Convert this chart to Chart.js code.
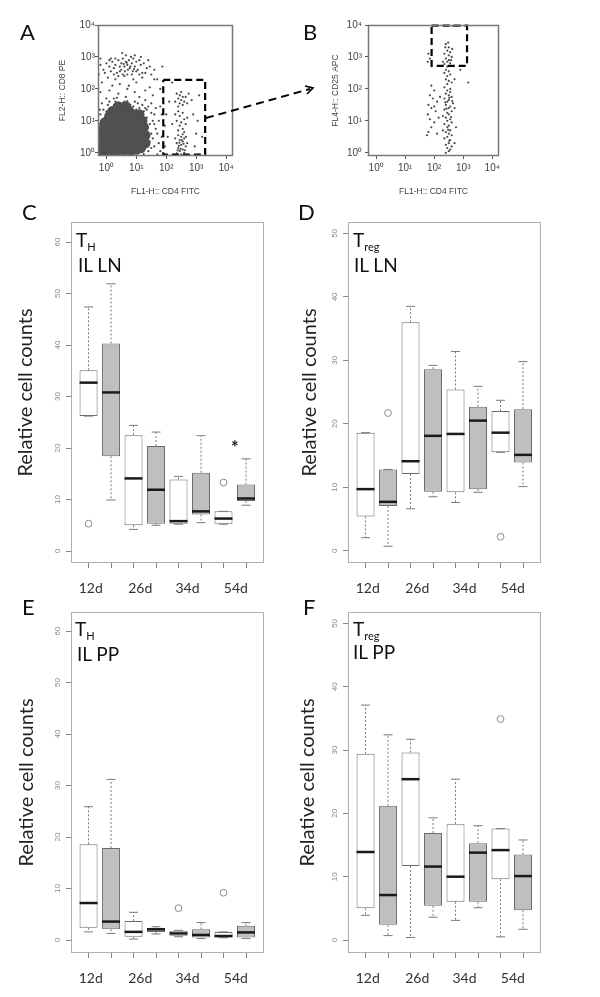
<!DOCTYPE html>
<html>
<head>
<meta charset="utf-8">
<script src="https://cdn.jsdelivr.net/npm/chart.js@4.4.1/dist/chart.umd.min.js"></script>
<style>
  body { margin: 0; background: #fff; width: 600px; height: 997px; position: relative; overflow: hidden; font-family: Lato, sans-serif; }
  canvas { position: absolute; left: 0; top: 0; }
  .lbl { position: absolute; color: #111; line-height: 1; white-space: nowrap; }
  .pl { font-size: 22px; }
  .an { font-size: 19px; }
  .an span { font-size: 11px; position: relative; top: 4px; }
  svg { position: absolute; left: 0; top: 0; }
</style>
</head>
<body>
<canvas id="cA" width="600" height="997"></canvas>
<canvas id="cB" width="600" height="997"></canvas>
<canvas id="cC" width="600" height="997"></canvas>
<canvas id="cD" width="600" height="997"></canvas>
<canvas id="cE" width="600" height="997"></canvas>
<canvas id="cF" width="600" height="997"></canvas>

<!-- gate arrow A -> B -->
<svg width="600" height="200">
  <line x1="206" y1="118" x2="310" y2="89" stroke="#000" stroke-width="2" stroke-dasharray="8 5"/>
  <polyline points="305,86 313,88 307,94" fill="none" stroke="#000" stroke-width="1.6"/>
</svg>

<div class="lbl pl" style="left:20px;top:21px">A</div>
<div class="lbl pl" style="left:303px;top:21px">B</div>
<div class="lbl pl" style="left:22px;top:201px">C</div>
<div class="lbl pl" style="left:298px;top:201px">D</div>
<div class="lbl pl" style="left:22px;top:596px">E</div>
<div class="lbl pl" style="left:303px;top:596px">F</div>

<div class="lbl an" style="left:76px;top:230px">T<span>H</span></div>
<div class="lbl an" style="left:78px;top:255px">IL LN</div>
<div class="lbl an" style="left:353px;top:230px">T<span>reg</span></div>
<div class="lbl an" style="left:354px;top:255px">IL LN</div>
<div class="lbl an" style="left:75px;top:619px">T<span>H</span></div>
<div class="lbl an" style="left:77px;top:644px">IL PP</div>
<div class="lbl an" style="left:353px;top:619px">T<span>reg</span></div>
<div class="lbl an" style="left:353px;top:642px">IL PP</div>

<script>
// ---- flow plots (log10 decades) ----
const flowTicks = [0, 1, 2, 3, 4];
const sup = ['⁰', '¹', '²', '³', '⁴'];

// A: [CD4 FITC, CD8 PE], dense core of the double-negative blob
const aCore = [
  [-0.15,0.08],[0.0,0.08],[0.2,0.08],[0.4,0.08],[0.6,0.08],[0.8,0.08],[1.0,0.1],[1.15,0.15],
  [-0.1,0.3],[0.1,0.3],[0.3,0.3],[0.5,0.3],[0.7,0.3],[0.9,0.3],[1.1,0.35],[1.3,0.3],
  [-0.15,0.55],[0.0,0.52],[0.2,0.52],[0.4,0.52],[0.6,0.52],[0.8,0.52],[1.0,0.55],[1.15,0.6],[1.3,0.55],
  [-0.1,0.75],[0.05,0.74],[0.25,0.74],[0.45,0.74],[0.65,0.74],[0.85,0.74],[1.05,0.8],[1.25,0.8],
  [-0.05,0.95],[0.15,0.96],[0.35,0.96],[0.55,0.96],[0.75,0.96],[0.95,1.0],[1.2,1.0],
  [0.1,1.15],[0.3,1.16],[0.5,1.18],[0.7,1.16],[0.9,1.2],[1.1,1.2],
  [0.2,1.3],[0.5,1.33],[0.75,1.32],[0.4,1.45],[0.65,1.45]
];
// A: single events
const aDots = [
  // CD8+ cluster
  [-0.2,2.75],[-0.1,2.6],[0.0,2.8],[0.1,2.7],[0.15,2.55],[0.2,2.85],[0.25,2.65],[0.3,2.75],[0.35,2.5],
  [0.4,2.9],[0.45,2.7],[0.5,2.6],[0.5,2.8],[0.55,2.95],[0.6,2.7],[0.62,2.55],[0.65,2.85],[0.7,2.75],
  [0.72,2.6],[0.75,2.9],[0.8,2.7],[0.82,3.0],[0.85,2.8],[0.88,2.55],[0.9,2.95],[0.95,2.7],[1.0,2.85],
  [1.05,2.6],[1.1,2.9],[1.15,2.75],[1.2,2.5],[1.25,2.8],[1.35,2.65],[1.45,2.7],[0.53,3.12],[1.87,2.7],
  [-0.25,2.45],[0.05,2.35],[0.3,2.3],[0.6,2.4],[0.9,2.3],[1.2,2.35],[0.45,2.15],[0.75,2.1],[1.0,2.2],
  [0.2,2.1],[-0.15,2.2],[0.68,2.82],[0.78,2.65],[0.58,2.78],[0.92,2.62],
  [0.1,2.9],[0.3,2.95],[0.45,2.55],[0.55,2.45],[0.7,2.45],[0.85,2.45],[1.0,2.55],[1.1,2.45],[1.3,2.5],
  [1.4,2.9],[0.25,2.45],[-0.05,2.5],[0.15,2.95],[0.95,3.05],[1.15,3.0],[0.65,3.05],[0.4,2.4],[1.5,2.45],
  [1.6,2.6],[-0.2,2.95],
  // between clusters
  [0.1,1.95],[0.4,1.85],[0.7,2.0],[0.95,1.9],[1.3,1.95],[1.55,1.8],[0.25,1.7],[1.1,1.75],[-0.2,1.9],
  [1.7,2.3],[1.45,2.05],
  // halo of double negatives
  [-0.25,0.0],[-0.28,0.5],[-0.22,0.9],[-0.2,1.2],[-0.1,1.35],[0.05,1.5],[0.2,1.4],[0.3,1.6],[0.55,1.55],
  [0.8,1.5],[0.95,1.6],[1.1,1.4],[1.25,1.3],[1.35,1.1],[1.45,0.9],[1.5,0.6],[1.45,0.35],[1.4,0.05],
  [1.6,0.2],[1.65,0.75],[1.6,1.2],[1.75,1.0],[1.85,0.5],[1.8,1.45],[1.5,1.55],[1.3,1.65],[0.65,1.75],
  [0.0,1.7],[-0.3,1.55],[1.9,0.15],[1.7,-0.05],[-0.15,-0.05],[0.4,-0.07],[0.9,-0.05],[1.25,-0.04],
  [1.55,1.0],[1.15,1.2],[-0.05,1.1],[1.4,1.45],[0.15,1.25],[1.35,0.75],[1.4,0.45],[1.3,1.4],[-0.25,0.3],
  [-0.28,1.0],[-0.15,1.55],[0.1,1.6],[0.35,1.72],[0.5,1.45],[0.7,1.62],[0.9,1.45],[1.05,1.55],[1.2,1.5],
  [1.35,1.35],[1.5,1.25],[1.55,0.45],[1.6,0.9],[1.7,0.6],[1.75,0.3],[1.5,0.15],[1.65,1.4],[1.85,1.2],
  [1.95,0.85],[1.8,0.05],[-0.27,0.2],[-0.26,0.75],[-0.22,1.35],[0.25,1.5],[0.6,1.6],[1.0,1.35],[1.3,0.95],
  [1.35,0.55],[1.3,0.2],[0.0,-0.06],[1.25,0.75],[1.25,1.1],[-0.18,0.6],[0.0,1.3],[0.85,1.3],
  // CD4+ stripe
  [2.35,1.85],[2.45,1.8],[2.55,1.75],[2.4,1.7],[2.5,1.65],[2.6,1.6],[2.3,1.6],[2.45,1.55],[2.55,1.5],
  [2.65,1.75],[2.7,1.55],[2.4,1.45],[2.75,1.85],[2.5,1.9],[2.85,1.65],
  [2.4,1.3],[2.55,1.25],[2.45,1.15],[2.6,1.05],[2.35,1.0],[2.5,0.95],[2.65,0.9],[2.45,0.85],[2.55,0.75],
  [2.4,0.7],[2.6,0.65],[2.3,1.2],[2.7,1.1],[2.2,0.9],
  [2.4,0.55],[2.5,0.5],[2.6,0.45],[2.45,0.4],[2.55,0.35],[2.35,0.3],[2.5,0.25],[2.65,0.2],[2.4,0.15],
  [2.55,0.1],[2.45,0.05],[2.6,0.0],[2.35,-0.02],[2.5,-0.05],[2.7,0.3],[2.3,0.45],[2.55,0.58],[2.42,0.22],
  [2.58,0.28],[2.48,0.12],[2.62,0.08],[2.38,0.08],[2.52,0.4],[2.44,0.32],[2.66,0.5],
  [2.0,1.2],[2.05,0.5],[1.95,0.2],[2.1,1.6],[2.9,1.2],[3.0,0.6],[3.1,1.8],[2.95,0.2],[3.2,0.5],[3.05,1.0],
  [1.8,2.0],[2.2,2.2],[1.6,2.3]
];
const gateA = [[1.9,2.28],[3.3,2.28],[3.3,-0.06],[1.9,-0.06],[1.9,2.28]];

// B: [CD4 FITC, CD25 APC] of the gated CD4+ cells
const bDots = [
  [2.4,3.4],[2.5,3.3],[2.45,3.2],[2.55,3.15],[2.35,3.1],[2.5,3.05],[2.6,3.0],[2.4,2.95],[2.5,2.9],
  [2.45,2.85],[2.55,2.8],[2.3,2.85],[2.62,3.25],[2.38,3.3],[2.48,3.45],[2.58,2.9],[2.64,3.97],[2.35,2.78],
  [1.8,3.1],[1.85,2.95],[1.78,2.85],
  [2.45,2.7],[2.4,2.6],[2.5,2.55],[2.35,2.5],[2.55,2.45],[2.45,2.4],[2.4,2.3],[2.5,2.25],[2.6,2.2],
  [2.45,2.15],[2.35,2.05],[2.55,2.0],[2.9,2.6],[3.17,2.2],[2.7,2.3],
  [1.9,2.1],[2.0,1.95],[1.85,1.8],[1.95,1.7],[2.1,1.6],[1.8,1.5],[1.9,1.4],[2.05,1.3],[1.78,1.2],
  [1.85,1.05],[2.0,0.95],[1.9,0.8],[1.8,0.65],[2.1,0.6],[1.75,0.55],[2.15,1.1],[2.2,1.75],[2.0,1.45],
  [2.45,1.95],[2.55,1.9],[2.4,1.85],[2.5,1.8],[2.6,1.75],[2.35,1.7],[2.5,1.65],[2.45,1.6],[2.65,1.55],
  [2.4,1.5],[2.55,1.45],[2.5,1.4],[2.35,1.35],[2.6,1.3],[2.45,1.25],[2.5,1.2],[2.4,1.1],[2.55,1.05],
  [2.45,1.0],[2.6,0.95],[2.35,0.9],[2.5,0.85],[2.45,0.8],[2.55,0.7],[2.4,0.65],[2.5,0.6],[2.6,0.55],
  [2.45,0.5],[2.35,0.45],[2.55,0.4],[2.5,0.3],[2.4,0.25],[2.6,0.2],[2.45,0.15],[2.55,0.1],[2.5,0.05],
  [2.4,0.0],[2.3,1.15],[2.7,1.4],[2.75,0.8],[2.7,0.3],[2.3,0.7],[2.52,1.72],[2.42,1.38],[2.58,1.12],
  [2.48,0.72],[2.52,0.38],[2.38,1.58],[2.62,1.62]
];
const gateB = [[1.91,3.98],[3.13,3.98],[3.13,2.72],[1.91,2.72],[1.91,3.98]];

// ---- box plots: 8 boxes, white/grey per time point ----
const groups = ['12d', '26d', '34d', '54d'];
const groupPos = [1.1, 3.3, 5.4, 7.55];
const boxPos = [1, 2, 3, 4, 5, 6, 7, 8];

// C: T_H, IL LN
const cLow  = [26.2, 9.9, 4.2, 5.0, 5.2, 5.5, 5.2, 8.9];
const cQ1   = [26.2, 18.4, 5.0, 5.3, 5.3, 7.1, 5.3, 9.7];
const cMed  = [32.7, 30.8, 14.1, 11.9, 5.8, 7.7, 6.3, 10.2];
const cQ3   = [35.1, 40.3, 22.5, 20.4, 13.9, 15.2, 7.7, 12.9];
const cHigh = [47.4, 51.9, 24.4, 23.1, 14.5, 22.4, 7.7, 17.9];
const cOut  = [[1, 5.3], [7, 13.3]];
const cStar = [[7.5, 20.6]];
const cTicks = [0, 10, 20, 30, 40, 50, 60];

// D: T_reg, IL LN
const dLow  = [2.05, 0.7, 6.6, 8.5, 7.6, 9.2, 15.5, 10.1];
const dQ1   = [5.4, 7.05, 12.1, 9.3, 9.2, 9.7, 15.5, 13.9];
const dMed  = [9.7, 7.7, 14.1, 18.1, 18.4, 20.5, 18.6, 15.1];
const dQ3   = [18.6, 12.8, 36.0, 28.6, 25.4, 22.7, 22.0, 22.3];
const dHigh = [18.6, 12.8, 38.5, 29.2, 31.4, 25.9, 23.7, 29.8];
const dOut  = [[2, 21.7], [7, 2.2]];
const dTicks = [0, 10, 20, 30, 40, 50];

// E: T_H, IL PP
const eLow  = [1.6, 1.3, 0.2, 1.2, 0.65, 0.3, 0.45, 0.3];
const eQ1   = [2.4, 2.1, 0.65, 1.6, 0.85, 0.5, 0.5, 0.5];
const eMed  = [7.2, 3.6, 1.6, 2.1, 1.3, 1.0, 0.8, 1.5];
const eQ3   = [18.6, 17.9, 3.7, 2.4, 1.8, 2.1, 1.6, 2.8];
const eHigh = [25.9, 31.2, 5.4, 2.6, 1.9, 3.4, 1.6, 3.4];
const eOut  = [[5, 6.2], [7, 9.2]];
const eTicks = [0, 10, 20, 30, 40, 50, 60];

// F: T_reg, IL PP
const fLow  = [3.9, 0.7, 0.4, 3.6, 3.1, 5.1, 0.5, 1.7];
const fQ1   = [5.0, 2.4, 11.7, 5.4, 6.05, 6.05, 9.6, 4.7];
const fMed  = [13.9, 7.1, 25.4, 11.6, 10.0, 13.8, 14.2, 10.1];
const fQ3   = [29.4, 21.2, 29.6, 16.9, 18.3, 15.3, 17.6, 13.5];
const fHigh = [37.1, 32.4, 31.7, 19.3, 25.4, 18.05, 17.6, 15.8];
const fOut  = [[7, 34.9]];
const fTicks = [0, 10, 20, 30, 40, 50];

const W = 600, H = 997;
const pts = arr => arr.map(p => ({x: p[0], y: p[1]}));

function frame(color, width) {
  return {
    id: 'frame',
    afterDraw(chart) {
      const a = chart.chartArea, ctx = chart.ctx;
      ctx.save();
      ctx.strokeStyle = color;
      ctx.lineWidth = width;
      ctx.strokeRect(a.left + 0.5, a.top + 0.5, a.right - a.left - 1, a.bottom - a.top - 1);
      ctx.restore();
    }
  };
}

function flowChart(id, area, yLeft, lblPad, yTitle, sets) {
  const xH = 41;
  new Chart(document.getElementById(id), {
    type: 'scatter',
    data: { datasets: sets },
    options: {
      responsive: false, animation: false, devicePixelRatio: 1,
      layout: { padding: { left: yLeft, top: area.t, right: W - area.r, bottom: H - area.b - xH } },
      plugins: { legend: { display: false }, tooltip: { enabled: false } },
      scales: {
        x: {
          type: 'linear', min: -0.28, max: 4.23,
          afterBuildTicks: s => { s.ticks = flowTicks.map(v => ({ value: v })); },
          afterFit: s => { s.height = xH; },
          grid: { drawOnChartArea: false, tickLength: 3, color: '#555' },
          border: { display: false },
          ticks: { callback: v => '10' + sup[v], font: { size: 10, family: 'Liberation Sans' }, color: '#444', padding: 3, maxRotation: 0 },
          title: { display: true, text: 'FL1-H:: CD4 FITC', font: { size: 8.5, family: 'Liberation Sans' }, color: '#444', padding: 0 }
        },
        y: {
          type: 'linear', min: -0.1, max: 4.0,
          afterBuildTicks: s => { s.ticks = flowTicks.map(v => ({ value: v })); },
          afterFit: s => { s.width = area.l - yLeft; },
          grid: { drawOnChartArea: false, tickLength: 3, color: '#555' },
          border: { display: false },
          ticks: { callback: v => '10' + sup[v], font: { size: 10, family: 'Liberation Sans' }, color: '#444', padding: lblPad },
          title: { display: true, text: yTitle, font: { size: 8.5, family: 'Liberation Sans' }, color: '#444', padding: 0 }
        }
      }
    },
    plugins: [frame('#777', 1.5)]
  });
}

function gateSet(g) {
  return { data: pts(g), showLine: true, borderColor: '#000', borderWidth: 2.2, borderDash: [7, 4], pointRadius: 0, clip: false };
}

flowChart('cA', { l: 98, t: 25, r: 233, b: 156 }, 58, 0, 'FL2-H:: CD8 PE', [
  gateSet(gateA),
  { data: pts(aDots), pointRadius: 1.1, backgroundColor: '#4a4a4a', borderWidth: 0 },
  { data: pts(aCore), pointRadius: 5.2, backgroundColor: '#505050', borderWidth: 0 }
]);

flowChart('cB', { l: 368, t: 25, r: 499, b: 156 }, 331, 3, 'FL4-H:: CD25 APC', [
  gateSet(gateB),
  { data: pts(bDots), pointRadius: 1.1, backgroundColor: '#4a4a4a', borderWidth: 0 }
]);

// whiskers, caps, medians, asterisk
function boxOverlay(st) {
  return {
    id: 'boxOverlay',
    afterDatasetsDraw(chart) {
      const { ctx, scales: { x, y } } = chart;
      const bars = chart.getDatasetMeta(0).data;
      ctx.save();
      bars.forEach((bar, i) => {
        const px = x.getPixelForValue(boxPos[i]);
        const half = bar.width / 2, cap = half / 2;
        const yq1 = y.getPixelForValue(st.q1[i]), yq3 = y.getPixelForValue(st.q3[i]);
        const ylo = y.getPixelForValue(st.low[i]), yhi = y.getPixelForValue(st.high[i]);
        ctx.strokeStyle = '#7a7a7a';
        ctx.lineWidth = 1;
        ctx.setLineDash([2, 2]);
        ctx.beginPath();
        ctx.moveTo(px, yq3); ctx.lineTo(px, yhi);
        ctx.moveTo(px, yq1); ctx.lineTo(px, ylo);
        ctx.stroke();
        ctx.setLineDash([]);
        ctx.beginPath();
        ctx.moveTo(px - cap, yhi); ctx.lineTo(px + cap, yhi);
        ctx.moveTo(px - cap, ylo); ctx.lineTo(px + cap, ylo);
        ctx.stroke();
        const ym = y.getPixelForValue(st.med[i]);
        ctx.strokeStyle = '#1a1a1a';
        ctx.lineWidth = 2.5;
        ctx.beginPath();
        ctx.moveTo(px - half, ym); ctx.lineTo(px + half, ym);
        ctx.stroke();
      });
      (st.star || []).forEach(p => {
        ctx.fillStyle = '#222';
        ctx.font = 'bold 18px Lato';
        ctx.textAlign = 'center';
        ctx.textBaseline = 'middle';
        ctx.fillText('*', x.getPixelForValue(p[0]), y.getPixelForValue(p[1]) + 3);
      });
      ctx.restore();
    }
  };
}

function boxChart(id, area, titleX, yMin, yMax, yTicks, st) {
  const xgH = 34;
  const yLeft = titleX - 12;
  new Chart(document.getElementById(id), {
    type: 'bar',
    data: {
      datasets: [
        {
          data: boxPos.map((p, i) => ({ x: p, y: [st.q1[i], st.q3[i]] })),
          backgroundColor: boxPos.map((p, i) => i % 2 ? '#bfbfbf' : '#ffffff'),
          borderColor: '#6a6a6a', borderWidth: 1, borderSkipped: false,
          categoryPercentage: 1, barPercentage: 0.8
        },
        {
          type: 'scatter', data: pts(st.out), pointRadius: 3.4,
          backgroundColor: 'rgba(0,0,0,0)', borderColor: '#8a8a8a', borderWidth: 1
        }
      ]
    },
    options: {
      responsive: false, animation: false, devicePixelRatio: 1,
      layout: { padding: { left: yLeft, top: area.t, right: W - area.r, bottom: H - area.b - 5 - xgH } },
      plugins: { legend: { display: false }, tooltip: { enabled: false } },
      scales: {
        x: {
          type: 'linear', min: 0.22, max: 8.8, offset: false, weight: 0,
          afterBuildTicks: s => { s.ticks = boxPos.map(v => ({ value: v })); },
          afterFit: s => { s.height = 5; },
          grid: { drawOnChartArea: false, offset: false, tickLength: 5, color: '#888' },
          border: { display: false },
          ticks: { display: false }
        },
        xg: {
          type: 'linear', position: 'bottom', min: 0.22, max: 8.8, offset: false, weight: 1,
          afterBuildTicks: s => { s.ticks = groupPos.map(v => ({ value: v })); },
          afterFit: s => { s.height = xgH; },
          grid: { display: false, drawTicks: false, tickLength: 0 },
          border: { display: false },
          ticks: { callback: (v, i) => groups[i], autoSkip: false, maxRotation: 0, padding: 12, font: { size: 14, family: 'Lato' }, color: '#333' }
        },
        y: {
          type: 'linear', min: yMin, max: yMax,
          afterBuildTicks: s => { s.ticks = yTicks.map(v => ({ value: v })); },
          afterFit: s => { s.width = area.l - yLeft; },
          grid: { drawOnChartArea: false, tickLength: 5, color: '#888' },
          border: { display: false },
          ticks: { minRotation: 90, maxRotation: 90, crossAlign: 'center', padding: 4, font: { size: 8, family: 'Liberation Sans' }, color: '#888' },
          title: { display: true, text: 'Relative cell counts', font: { size: 20, family: 'Lato' }, color: '#222', padding: 0 }
        }
      }
    },
    plugins: [boxOverlay(st), frame('#b0b0b0', 1)]
  });
}

boxChart('cC', { l: 71, t: 222, r: 264, b: 563 }, 26, -2.33, 63.9, cTicks,
  { low: cLow, q1: cQ1, med: cMed, q3: cQ3, high: cHigh, out: cOut, star: cStar });
boxChart('cD', { l: 348, t: 222, r: 541, b: 563 }, 310, -1.94, 51.8, dTicks,
  { low: dLow, q1: dQ1, med: dMed, q3: dQ3, high: dHigh, out: dOut });
boxChart('cE', { l: 71, t: 612, r: 264, b: 953 }, 27, -2.5, 63.7, eTicks,
  { low: eLow, q1: eQ1, med: eMed, q3: eQ3, high: eHigh, out: eOut });
boxChart('cF', { l: 348, t: 612, r: 541, b: 953 }, 308, -2.05, 51.8, fTicks,
  { low: fLow, q1: fQ1, med: fMed, q3: fQ3, high: fHigh, out: fOut });
</script>
</body>
</html>
